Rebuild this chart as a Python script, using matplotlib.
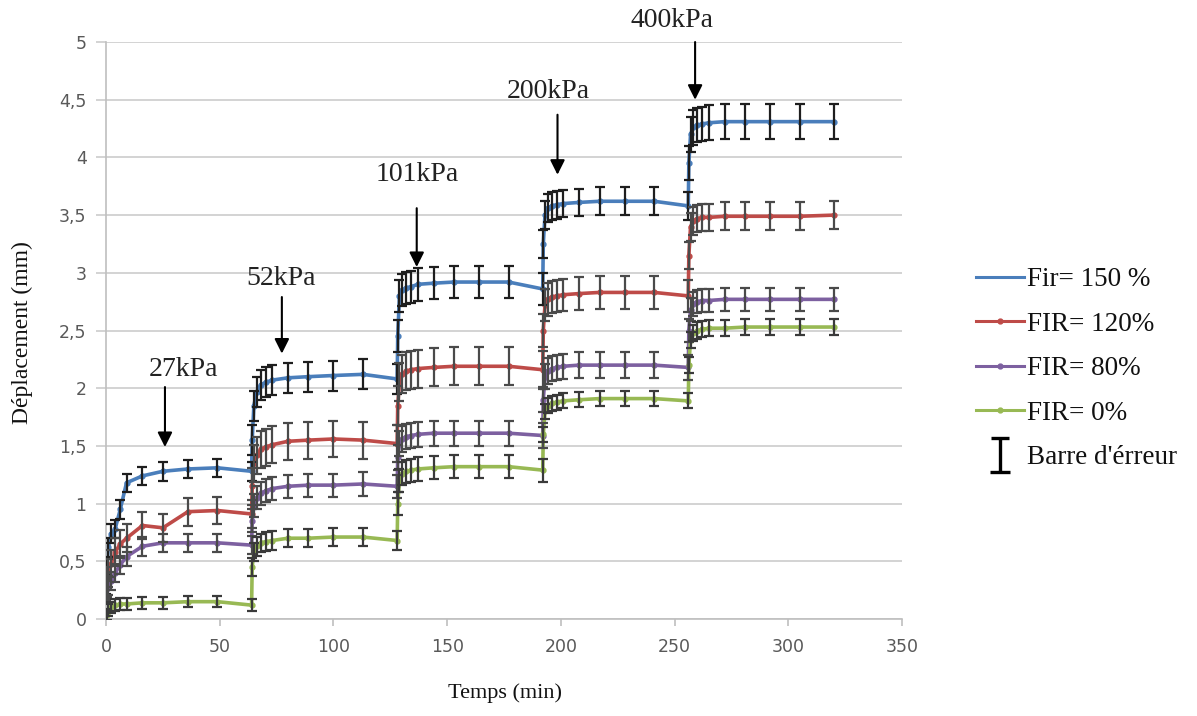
import numpy as np
import matplotlib
matplotlib.use("Agg")
import matplotlib.pyplot as plt
from matplotlib.path import Path
from matplotlib.lines import Line2D

# ---------------- data ----------------
time_min = [0,
            0.25, 1, 2.25, 4, 6.25, 9, 16, 25, 36, 49, 64,
            64.25, 65, 66.25, 68, 70.25, 73, 80, 89, 100, 113, 128,
            128.25, 129, 130.25, 132, 134.25, 137, 144, 153, 164, 177, 192,
            192.25, 193, 194.25, 196, 198.25, 201, 208, 217, 228, 241, 256,
            256.25, 257, 258.25, 260, 262.25, 265, 272, 281, 292, 305, 320]

fir150 = [0.30,
          0.45, 0.62, 0.74, 0.78, 0.95, 1.18, 1.24, 1.28, 1.30, 1.31, 1.28,
          1.55, 1.85, 1.97, 2.03, 2.05, 2.07, 2.09, 2.10, 2.11, 2.12, 2.08,
          2.45, 2.80, 2.85, 2.87, 2.88, 2.90, 2.91, 2.92, 2.92, 2.92, 2.86,
          3.25, 3.50, 3.56, 3.58, 3.59, 3.60, 3.61, 3.62, 3.62, 3.62, 3.58,
          3.95, 4.20, 4.26, 4.28, 4.29, 4.30, 4.31, 4.31, 4.31, 4.31, 4.31]

fir120 = [0.28,
          0.33, 0.40, 0.48, 0.58, 0.65, 0.70, 0.81, 0.79, 0.93, 0.94, 0.91,
          1.15, 1.35, 1.42, 1.47, 1.49, 1.51, 1.54, 1.55, 1.56, 1.55, 1.52,
          1.85, 2.05, 2.12, 2.15, 2.16, 2.17, 2.18, 2.19, 2.19, 2.19, 2.16,
          2.50, 2.72, 2.77, 2.79, 2.80, 2.81, 2.82, 2.83, 2.83, 2.83, 2.80,
          3.15, 3.40, 3.45, 3.47, 3.48, 3.48, 3.49, 3.49, 3.49, 3.49, 3.50]

fir80 = [0.25,
         0.27, 0.29, 0.33, 0.40, 0.47, 0.54, 0.63, 0.66, 0.66, 0.66, 0.64,
         0.85, 0.98, 1.05, 1.09, 1.11, 1.13, 1.15, 1.16, 1.16, 1.17, 1.15,
         1.40, 1.52, 1.56, 1.58, 1.59, 1.60, 1.61, 1.61, 1.61, 1.61, 1.59,
         1.90, 2.10, 2.15, 2.17, 2.18, 2.19, 2.20, 2.20, 2.20, 2.20, 2.18,
         2.50, 2.68, 2.73, 2.75, 2.76, 2.76, 2.77, 2.77, 2.77, 2.77, 2.77]

fir0 = [0.02,
        0.04, 0.08, 0.10, 0.12, 0.13, 0.13, 0.14, 0.14, 0.15, 0.15, 0.12,
        0.45, 0.58, 0.63, 0.66, 0.67, 0.68, 0.70, 0.70, 0.71, 0.71, 0.68,
        1.00, 1.20, 1.26, 1.28, 1.29, 1.30, 1.31, 1.32, 1.32, 1.32, 1.29,
        1.60, 1.80, 1.85, 1.87, 1.88, 1.89, 1.90, 1.91, 1.91, 1.91, 1.89,
        2.20, 2.42, 2.48, 2.50, 2.51, 2.52, 2.52, 2.53, 2.53, 2.53, 2.53]

# error half-width per loading stage
err150 = [0.08, 0.13, 0.14, 0.12, 0.15]
err120 = [0.12, 0.16, 0.165, 0.14, 0.12]
err80 = [0.08, 0.10, 0.11, 0.11, 0.10]
err0 = [0.05, 0.08, 0.10, 0.065, 0.07]
stage_points = [12, 11, 11, 11, 11]

labels = ["Fir= 150 %", "FIR= 120%", "FIR= 80%", "FIR= 0%"]
colors = ["#4A7EBB", "#BE4B48", "#7D60A0", "#98B954"]
err_colors = ["#1E1E1E", "#4A4A4A", "#4A4A4A", "#3A3A3A"]

loads = ["27kPa", "52kPa", "101kPa", "200kPa", "400kPa"]
load_arrow_x = [25.9, 77.3, 136.6, 198.5, 259.0]
load_arrow_top = [2.01, 2.79, 3.56, 4.37, 5.00]
load_arrow_tip = [1.49, 2.30, 3.05, 3.85, 4.50]
load_text_x = [33.9, 77.0, 137.0, 194.4, 248.9]
load_text_y = [2.16, 2.95, 3.85, 4.57, 5.19]

yticks = [0, 0.5, 1, 1.5, 2, 2.5, 3, 3.5, 4, 4.5, 5]
ytick_labels = ["0", "0,5", "1", "1,5", "2", "2,5", "3", "3,5", "4", "4,5", "5"]
xticks = [0, 50, 100, 150, 200, 250, 300, 350]

# ---------------- figure ----------------
serif = ["Liberation Serif", "DejaVu Serif"]
fig = plt.figure(figsize=(11.97, 7.16), dpi=100)
ax = fig.add_axes([0.0886, 0.1355, 0.6650, 0.8058])

series = [fir150, fir120, fir80, fir0]
errs = [err150, err120, err80, err0]
handles = []
for i, (vals, e, lab, c, ec) in enumerate(zip(series, errs, labels, colors, err_colors)):
    yerr = np.repeat(e, stage_points)
    ax.errorbar(time_min, vals, yerr=yerr, fmt="none", ecolor=ec,
                elinewidth=1.6, capsize=3.5, capthick=1.6, zorder=3)
    ax.plot(time_min, vals, color=c, lw=2.6, marker="o", ms=3.5,
            mec=c, mfc=c, zorder=2)
    handles.append(Line2D([], [], color=c, lw=2.2,
                          marker=("None" if i == 0 else "o"), ms=3.5,
                          mec=c, mfc=c, label=lab))

# error-bar legend entry: an "I" symbol
i_path = Path([(-0.5, 1), (0.5, 1), (0, 1), (0, -1), (-0.55, -1), (0.55, -1)],
              [Path.MOVETO, Path.LINETO, Path.MOVETO, Path.LINETO,
               Path.MOVETO, Path.LINETO])
handles.append(Line2D([], [], ls="None", marker=i_path, ms=25, mew=2.4,
                      color="black", mfc="none", label="Barre d'érreur"))

for name, ax_x, top, tip, tx, ty in zip(loads, load_arrow_x, load_arrow_top,
                                        load_arrow_tip, load_text_x, load_text_y):
    ax.annotate("", xy=(ax_x, tip), xytext=(ax_x, top),
                arrowprops=dict(arrowstyle="-|>", color="black", lw=1.5,
                                mutation_scale=22, shrinkA=0, shrinkB=0),
                annotation_clip=False, zorder=5)
    ax.text(tx, ty, name, ha="center", va="center", fontsize=20,
            family=serif, color="#222222", clip_on=False)

ax.set_xlim(0, 350)
ax.set_ylim(0, 5)
ax.set_yticks(yticks)
ax.set_yticklabels(ytick_labels)
ax.set_xticks(xticks)
ax.grid(axis="y", color="#D0D0D0", lw=1.3)
ax.set_axisbelow(True)
for s in ["top", "right"]:
    ax.spines[s].set_visible(False)
for s in ["left", "bottom"]:
    ax.spines[s].set_color("#BFBFBF")
    ax.spines[s].set_linewidth(1.2)
ax.tick_params(axis="y", length=7, width=1.3, color="#D0D0D0", pad=7,
               labelsize=12.5, labelcolor="#595959")
ax.tick_params(axis="x", length=5, width=1.2, color="#BFBFBF", pad=9,
               labelsize=12.5, labelcolor="#595959")

fig.text(22 / 1197, 1 - 333 / 716, "Déplacement (mm)", rotation=90,
         ha="center", va="center", fontsize=17, family=serif, color="#111111")
fig.text(505 / 1197, 1 - 693 / 716, "Temps (min)", ha="center", va="center",
         fontsize=16, family=serif, color="#111111")

leg = fig.legend(handles=handles, loc="center left",
                 bbox_to_anchor=(0.806, 0.485), frameon=False,
                 borderaxespad=0, prop={"family": serif, "size": 19.5},
                 handlelength=1.8, handletextpad=0.1, labelspacing=0.72,
                 numpoints=1)
for t in leg.get_texts():
    t.set_color("#111111")

fig.savefig("out.png", dpi=100)
